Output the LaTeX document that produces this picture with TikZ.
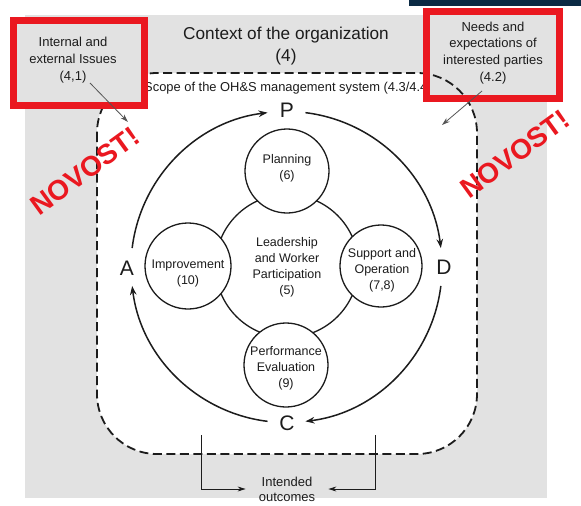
\documentclass[tikz,border=0pt]{standalone}
\usepackage{fontspec}
\setmainfont{Liberation Sans}
\usetikzlibrary{arrows.meta,calc}
\definecolor{bgg}{HTML}{E2E2E2}
\definecolor{hired}{HTML}{EA1820}
\definecolor{navy}{HTML}{0B2A44}
\definecolor{ink}{HTML}{1C1C1C}
\begin{document}
\begin{tikzpicture}[x=1pt,y=-1pt,
  txt/.style={text=ink,align=center,inner sep=0pt,font=\fontsize{12.5}{16}\selectfont},
  boxtxt/.style={text=ink,align=center,inner sep=0pt,font=\fontsize{13}{16.8}\selectfont},
  bigletter/.style={text=ink,inner sep=1pt,font=\fontsize{21}{24}\selectfont},
  circ/.style={circle,draw=ink,line width=1.3pt,fill=white,inner sep=0pt},
  cyc/.style={draw=ink,line width=1.5pt,-{Stealth[length=9pt,width=6.5pt]}},
  dashrect/.style={draw=ink,line width=1.8pt,dash pattern=on 9pt off 4.5pt,rounded corners=60pt},
  redbox/.style={draw=hired,line width=7pt},
  thinarrow/.style={draw=ink!75,line width=0.8pt,-{Stealth[length=8pt,width=5pt]}},
  outarrow/.style={draw=ink,line width=1pt,-{Stealth[length=8pt,width=5pt]}},
  novost/.style={text=hired,inner sep=0pt,font=\fontsize{28}{30}\selectfont\bfseries}
]
\useasboundingbox (0,0) rectangle (581,506);
\fill[white] (0,0) rectangle (581,506);
% grey background
\fill[bgg] (25,15) rectangle (547,498);
\fill[navy] (409,0) rectangle (581,5.5);
% title
\node[text=ink,align=center,inner sep=0pt,font=\fontsize{17.2}{22}\selectfont] (title) at (286,46) {Context of the organization\\(4)};
% scope rectangle
\draw[dashrect,fill=white] (97,73) rectangle (477,454);
\node[text=ink,inner sep=0pt,anchor=west,font=\fontsize{12.9}{16}\selectfont] (scope) at (144,88) {Scope of the OH\&S management system (4.3/4.4)};
% red boxes
\fill[bgg] (13.5,20.5) rectangle (144.5,105.5);
\draw[redbox] (13.5,20.5) rectangle (144.5,105.5);
\fill[bgg] (426.5,11.5) rectangle (559.5,98.5);
\begin{scope}
  \clip (426.5,11.5) rectangle (559.5,98.5);
  \draw[dashrect] (97,73) rectangle (477,454);
\end{scope}
\draw[redbox] (426.5,11.5) rectangle (559.5,98.5);
\node[boxtxt] (iss) at (73,60) {Internal and\\external Issues\\(4,1)};
\node[boxtxt] (needs) at (493,53) {Needs and\\expectations of\\interested parties\\(4.2)};
\coordinate (issA) at (90,83);
\coordinate (issB) at (128,122);
\coordinate (needA) at (482,91);
\coordinate (needB) at (442,125);
\draw[thinarrow] (issA) -- (issB);
\draw[thinarrow] (needA) -- (needB);
% PDCA cycle
\coordinate (O) at (286.5,267);
\node[bigletter] (P) at (287,110) {P};
\node[bigletter] (D) at (444,267) {D};
\node[bigletter] (C) at (287,423) {C};
\node[bigletter] (A) at (127,268) {A};
\draw[cyc] ($(O)+(187:155.5)$) arc[start angle=187,end angle=263,radius=155.5];
\draw[cyc] ($(O)+(277:155.5)$) arc[start angle=277,end angle=353,radius=155.5];
\draw[cyc] ($(O)+(7:155.5)$) arc[start angle=7,end angle=83,radius=155.5];
\draw[cyc] ($(O)+(97:155.5)$) arc[start angle=97,end angle=173,radius=155.5];
% circles
\node[circ,minimum size=143pt] (lead) at (287,266) {};
\node[circ,minimum size=84pt] (plan) at (287,171) {};
\node[circ,minimum size=86pt] (impr) at (188,266) {};
\node[circ,minimum size=82pt] (supp) at (381,266) {};
\node[circ,minimum size=84pt] (perf) at (286,365) {};
\node[txt] (leadt) at (287,267) {Leadership\\and Worker\\Participation\\(5)};
\node[txt] (plant) at (287,168) {Planning\\(6)};
\node[txt] (imprt) at (188,273) {Improvement\\(10)};
\node[txt] (suppt) at (382,270) {Support and\\Operation\\(7,8)};
\node[txt] (perft) at (286,368) {Performance\\Evaluation\\(9)};
% intended outcomes
\node[boxtxt,inner xsep=13pt,font=\fontsize{13}{15}\selectfont] (out) at (287,489) {Intended\\outcomes};
\coordinate (lo) at (201,435);
\coordinate (ro) at (375,435);
\draw[outarrow] (lo) |- (out.west);
\draw[outarrow] (ro) |- (out.east);
% NOVOST labels
\node[novost,rotate=36] (nov1) at (85,171) {NOVOST!};
\node[novost,rotate=36] (nov2) at (515,154) {NOVOST!};
\end{tikzpicture}
\end{document}
